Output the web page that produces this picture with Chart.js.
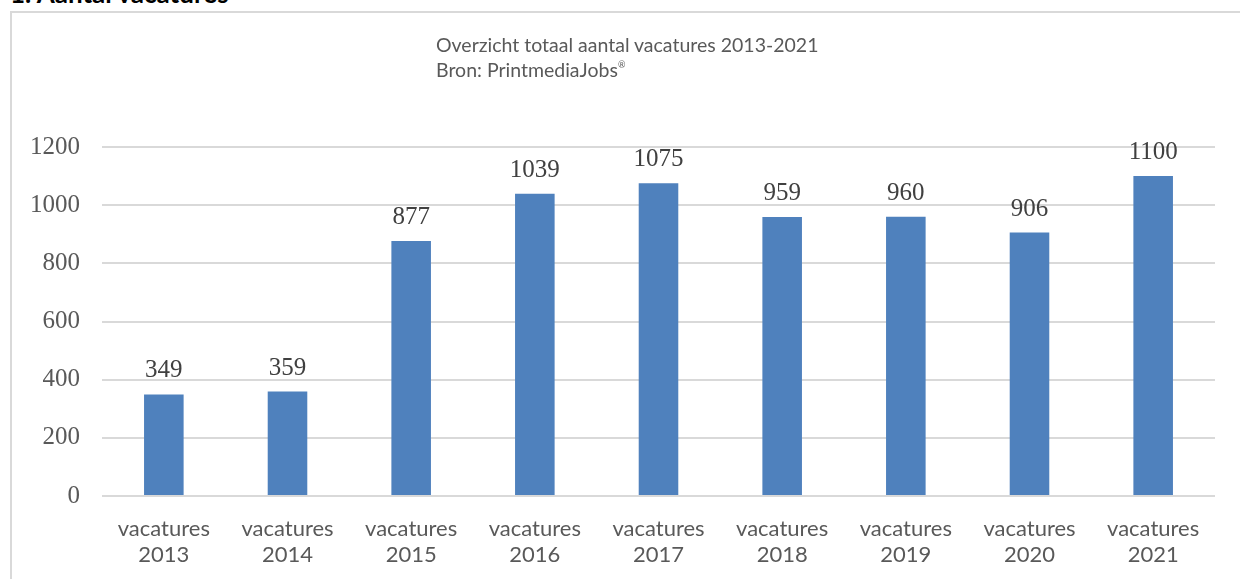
<!DOCTYPE html>
<html>
<head>
<meta charset="utf-8">
<script src="https://cdn.jsdelivr.net/npm/chart.js@4/dist/chart.umd.min.js"></script>
<style>
    html, body { margin: 0; padding: 0; background: #fff; overflow: hidden; }
    #page { position: relative; width: 1240px; height: 579px; }
    #kop { position: absolute; left: 10px; top: -23px; font: bold 26px Lato, sans-serif; color: #000; white-space: nowrap; }
    #kader { position: absolute; left: 10px; top: 11px; width: 1260px; height: 620px; border: 2px solid #d9d9d9; box-sizing: border-box; }
    #titel { position: absolute; left: 436px; top: 32px; font: 19.5px Lato, sans-serif; line-height: 25px; color: #595959; white-space: nowrap; }
    #titel sup { font-size: 9px; vertical-align: 9px; line-height: 0; }
    #salesChart { position: absolute; left: 0; top: 0; }
</style>
</head>
<body>
<div id="page">
    <div id="kop">1. Aantal vacatures</div>
    <div id="kader"></div>
    <canvas id="salesChart" width="1240" height="579"></canvas>
    <div id="titel">Overzicht totaal aantal vacatures 2013-2021<br>Bron: PrintmediaJobs<sup>®</sup></div>
</div>
<script>
    // gegevens uit de grafiek
    const jaren = ['2013', '2014', '2015', '2016', '2017', '2018', '2019', '2020', '2021'];
    const vacatures = [349, 359, 877, 1039, 1075, 959, 960, 906, 1100];
    const yTicks = [0, 200, 400, 600, 800, 1000, 1200];

    const labels = jaren.map(j => ['vacatures', j]);

    // waarden boven de staven tekenen
    const waardeLabels = {
        id: 'waardeLabels',
        afterDatasetsDraw(chart) {
            const ctx = chart.ctx;
            const meta = chart.getDatasetMeta(0);
            ctx.save();
            ctx.font = '25px "Liberation Serif", serif';
            ctx.fillStyle = '#404040';
            ctx.textAlign = 'center';
            ctx.textBaseline = 'alphabetic';
            meta.data.forEach((bar, i) => {
                ctx.fillText(vacatures[i], bar.x, bar.y - 17);
            });
            ctx.restore();
        }
    };

    const ctx = document.getElementById('salesChart').getContext('2d');
    new Chart(ctx, {
        type: 'bar',
        data: {
            labels: labels,
            datasets: [{
                label: 'vacatures',
                data: vacatures,
                backgroundColor: '#4f81bd',
                borderWidth: 0,
                categoryPercentage: 1,
                barPercentage: 0.32
            }]
        },
        options: {
            responsive: false,
            animation: false,
            layout: { padding: { left: 0, right: 25, top: 147, bottom: 0 } },
            plugins: {
                legend: { display: false },
                tooltip: { enabled: false }
            },
            scales: {
                x: {
                    grid: { display: false, drawTicks: false },
                    border: { display: false },
                    ticks: {
                        color: '#595959',
                        font: { family: 'Lato', size: 22, lineHeight: 1.22 },
                        padding: 19,
                        maxRotation: 0,
                        autoSkip: false
                    },
                    afterFit(scale) { scale.height = 83; }
                },
                y: {
                    min: 0,
                    max: 1200,
                    afterBuildTicks(scale) { scale.ticks = yTicks.map(v => ({ value: v })); },
                    grid: { color: '#d9d9d9', lineWidth: 2, drawTicks: false },
                    border: { display: false },
                    ticks: {
                        color: '#595959',
                        font: { family: 'Liberation Serif', size: 25 },
                        padding: 22,
                        callback: v => String(v)
                    },
                    afterFit(scale) { scale.width = 102; }
                }
            }
        },
        plugins: [waardeLabels]
    });
</script>
</body>
</html>
